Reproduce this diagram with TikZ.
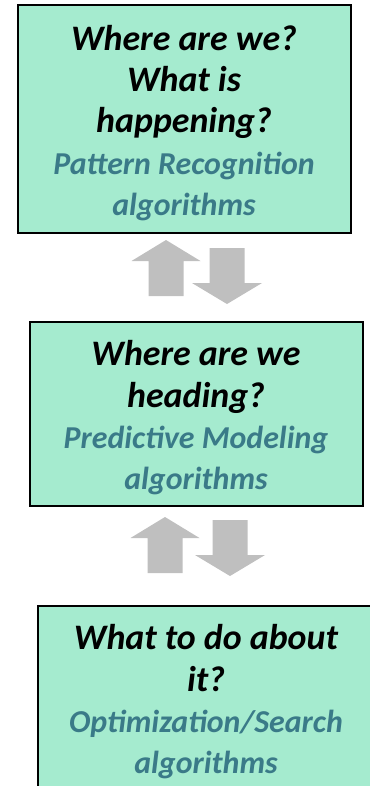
\documentclass[tikz,border=0pt]{standalone}
\usepackage{fontspec}
\setmainfont{Carlito}
\definecolor{stagefill}{HTML}{A5EBCF}
\definecolor{algoteal}{HTML}{3A7A88}
\definecolor{arrowgray}{HTML}{BFBFBF}
\newcommand{\algo}[1]{{\color{algoteal}\fontsize{32}{40}\selectfont #1}}
\begin{document}
\begin{tikzpicture}[x=1bp,y=-1bp,
  stage/.style={draw=black, line width=1.5bp, fill=stagefill, inner sep=0pt},
  stagetext/.style={inner sep=0pt, align=center,
    font=\fontsize{36}{41.5}\selectfont\bfseries\itshape},
  uparr/.pic={\fill[arrowgray] (0,0) -- (34.5,21) -- (17.5,21) -- (17.5,56)
     -- (-17.5,56) -- (-17.5,21) -- (-34.5,21) -- cycle;},
  downarr/.pic={\fill[arrowgray] (0,0) -- (35,-21) -- (17.5,-21) -- (17.5,-56)
     -- (-17.5,-56) -- (-17.5,-21) -- (-35,-21) -- cycle;}
]
\useasboundingbox (0,0) rectangle (369,786);

% the three stages
\node[stage, minimum width=333bp, minimum height=228bp] (sense) at (184.5,119) {};
\node[stagetext] (sense text) at (184,123)
  {Where are we?\\ What is\\ happening?\\ \algo{Pattern Recognition}\\ \algo{algorithms}};

\node[stage, minimum width=333bp, minimum height=184bp] (predict) at (196.5,414) {};
\node[stagetext] (predict text) at (196,418)
  {Where are we\\ heading?\\ \algo{Predictive Modeling}\\ \algo{algorithms}};

\node[stage, minimum width=336bp, minimum height=194bp] (act) at (206,703) {};
\node[stagetext] (act text) at (206,702)
  {What to do about\\ it?\\ \algo{Optimization/Search}\\ \algo{algorithms}};

% feedback block arrows between the stages
\coordinate (up1) at (166,240);
\coordinate (down1) at (227,304);
\coordinate (up2) at (165,517);
\coordinate (down2) at (230,576);
\pic at (up1) {uparr};
\pic at (down1) {downarr};
\pic at (up2) {uparr};
\pic at (down2) {downarr};
\end{tikzpicture}
\end{document}
